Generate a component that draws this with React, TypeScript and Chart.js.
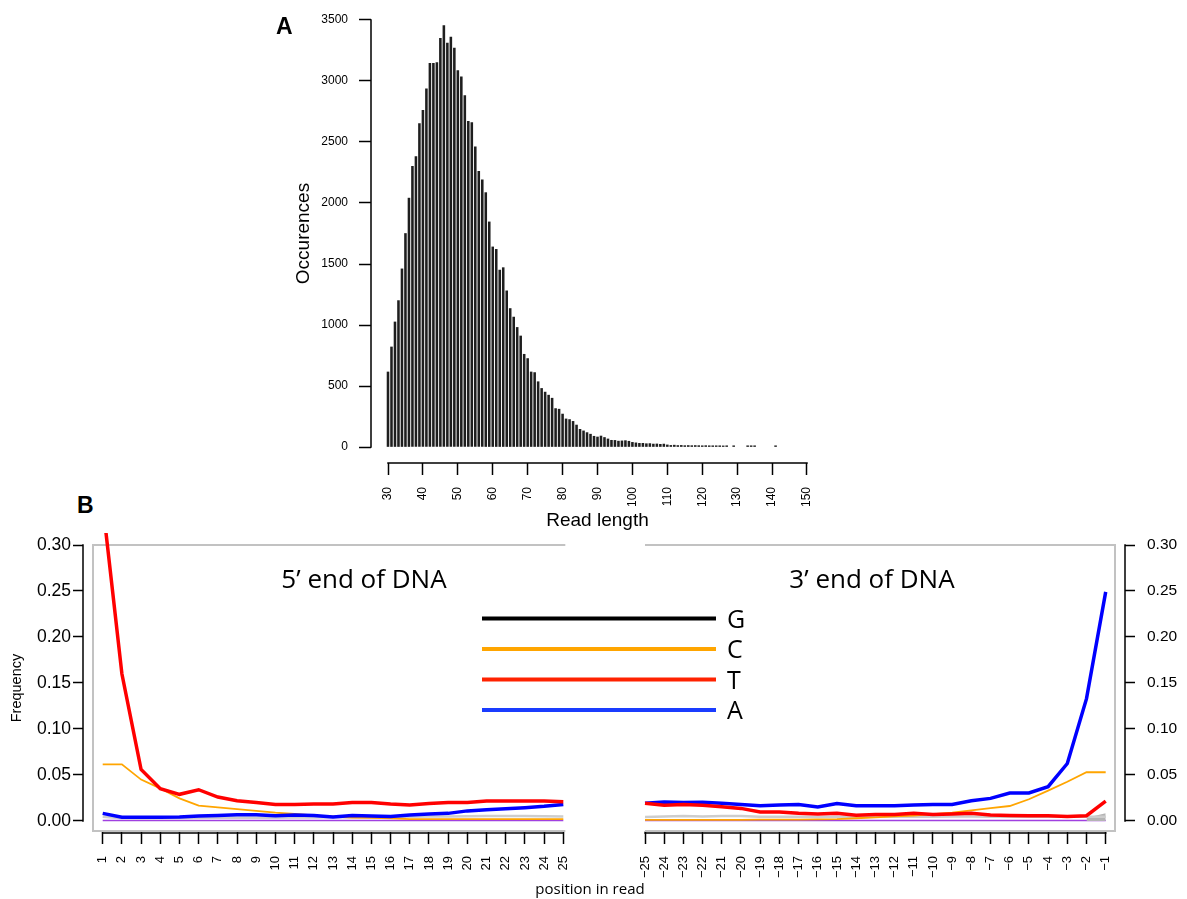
import React, { useEffect, useRef } from 'react';
import { Chart, registerables } from 'chart.js';

Chart.register(...registerables);

// ---------------- Panel A : read length histogram ----------------
const readLengths = [
  30, 31, 32, 33, 34, 35, 36, 37, 38, 39,
  40, 41, 42, 43, 44, 45, 46, 47, 48, 49,
  50, 51, 52, 53, 54, 55, 56, 57, 58, 59,
  60, 61, 62, 63, 64, 65, 66, 67, 68, 69,
  70, 71, 72, 73, 74, 75, 76, 77, 78, 79,
  80, 81, 82, 83, 84, 85, 86, 87, 88, 89,
  90, 91, 92, 93, 94, 95, 96, 97, 98, 99,
  100, 101, 102, 103, 104, 105, 106, 107, 108, 109,
  110, 111, 112, 113, 114, 115, 116, 117, 118, 119,
  120, 121, 122, 123, 124, 125, 126, 127, 128, 129,
  130, 131, 132, 133, 134, 135, 136, 137, 138, 139,
  140, 141,
];
const occurrences = [
  615, 820, 1025, 1200, 1460, 1750, 2040, 2300, 2380, 2650,
  2760, 2935, 3145, 3145, 3150, 3350, 3455, 3310, 3360, 3270,
  3085, 3035, 2880, 2670, 2660, 2460, 2260, 2190, 2085, 1845,
  1640, 1620, 1450, 1470, 1280, 1135, 1065, 980, 910, 760,
  725, 615, 610, 535, 480, 450, 425, 400, 315, 310,
  270, 230, 225, 210, 180, 145, 132, 118, 105, 88,
  82, 90, 78, 66, 55, 54, 48, 50, 52, 47,
  38, 34, 30, 30, 27, 28, 24, 25, 22, 24,
  17, 13, 15, 12, 13, 11, 12, 11, 12, 11,
  10, 11, 10, 10, 10, 10, 9, 10, 0, 10,
  0, 0, 0, 10, 10, 10, 0, 0, 0, 0,
  0, 10,
];
const histXTicks = [30, 40, 50, 60, 70, 80, 90, 100, 110, 120, 130, 140, 150];
const histXLabels = ['30', '40', '50', '60', '70', '80', '90', '100', '110', '120', '130', '140', '150'];
const histYTicks = [0, 500, 1000, 1500, 2000, 2500, 3000, 3500];
const histYLabels = ['0', '500', '1000', '1500', '2000', '2500', '3000', '3500'];

// ---------------- Panel B : base frequencies ----------------
const posLeft = [1, 2, 3, 4, 5, 6, 7, 8, 9, 10, 11, 12, 13, 14, 15, 16, 17, 18, 19, 20, 21, 22, 23, 24, 25];
const posLeftLabels = ['1', '2', '3', '4', '5', '6', '7', '8', '9', '10', '11', '12', '13', '14', '15', '16', '17', '18', '19', '20', '21', '22', '23', '24', '25'];
const posRight = [-25, -24, -23, -22, -21, -20, -19, -18, -17, -16, -15, -14, -13, -12, -11, -10, -9, -8, -7, -6, -5, -4, -3, -2, -1];
const posRightLabels = ['\u221225', '\u221224', '\u221223', '\u221222', '\u221221', '\u221220', '\u221219', '\u221218', '\u221217', '\u221216', '\u221215', '\u221214', '\u221213', '\u221212', '\u221211', '\u221210', '\u22129', '\u22128', '\u22127', '\u22126', '\u22125', '\u22124', '\u22123', '\u22122', '\u22121'];
const freqTicks = [0, 0.05, 0.1, 0.15, 0.2, 0.25, 0.3];
const freqLabels = ['0.00', '0.05', '0.10', '0.15', '0.20', '0.25', '0.30'];

// 5' end (positions 1..25)
const tLeft = [0.345, 0.160, 0.056, 0.035, 0.029, 0.034, 0.026, 0.022, 0.020, 0.018, 0.018, 0.0185, 0.0185, 0.020, 0.020, 0.0185, 0.0175, 0.019, 0.020, 0.020, 0.0217, 0.0217, 0.0217, 0.0217, 0.021];
const cLeft = [0.0616, 0.0616, 0.045, 0.0355, 0.0246, 0.0167, 0.0149, 0.013, 0.011, 0.009, 0.0076, 0.006, 0.0047, 0.0037, 0.0035, 0.003, 0.002, 0.002, 0.002, 0.002, 0.002, 0.002, 0.002, 0.002, 0.002];
const aLeft = [0.0083, 0.004, 0.004, 0.004, 0.0043, 0.0054, 0.006, 0.0068, 0.0068, 0.0058, 0.0065, 0.006, 0.0043, 0.006, 0.0054, 0.005, 0.0065, 0.0076, 0.0083, 0.011, 0.0123, 0.0134, 0.0145, 0.016, 0.018];
const grayLeft = [0.0045, 0.003, 0.0028, 0.003, 0.003, 0.0032, 0.0035, 0.0035, 0.0036, 0.0036, 0.0038, 0.0038, 0.004, 0.004, 0.004, 0.0042, 0.0045, 0.0048, 0.005, 0.0052, 0.0055, 0.0055, 0.0054, 0.0052, 0.005];
const purpleLeft = [0.0005, 0.0005, 0.0005, 0.0005, 0.0005, 0.0005, 0.0005, 0.0005, 0.0005, 0.0005, 0.0005, 0.0005, 0.0005, 0.0005, 0.0005, 0.0005, 0.0005, 0.0005, 0.0005, 0.0005, 0.0005, 0.0005, 0.0005, 0.0005, 0.0005];

// 3' end (positions -25..-1)
const tRight = [0.0192, 0.017, 0.0178, 0.017, 0.0156, 0.0137, 0.0098, 0.0098, 0.0083, 0.0076, 0.0083, 0.0062, 0.007, 0.007, 0.0083, 0.007, 0.0076, 0.0083, 0.0065, 0.006, 0.0058, 0.0058, 0.005, 0.0058, 0.0217];
const cRight = [0.0012, 0.0012, 0.0012, 0.0012, 0.0012, 0.0013, 0.0014, 0.0015, 0.0016, 0.0018, 0.002, 0.003, 0.004, 0.005, 0.006, 0.0075, 0.009, 0.0115, 0.014, 0.0163, 0.0236, 0.033, 0.0427, 0.053, 0.053];
const aRight = [0.0192, 0.0207, 0.020, 0.0203, 0.0192, 0.018, 0.0167, 0.0174, 0.0178, 0.0152, 0.019, 0.0167, 0.0167, 0.0167, 0.0174, 0.018, 0.018, 0.022, 0.0246, 0.0304, 0.0304, 0.0373, 0.0625, 0.133, 0.249];
const grayRight = [0.0043, 0.005, 0.0055, 0.005, 0.0053, 0.0055, 0.0045, 0.0045, 0.0045, 0.0044, 0.0045, 0.0044, 0.0045, 0.0046, 0.0046, 0.0047, 0.0048, 0.0048, 0.0047, 0.0045, 0.0045, 0.0045, 0.0045, 0.0045, 0.0045];
const grayBandRight = [null, null, null, null, null, null, null, null, null, null, null, null, null, null, null, null, null, null, null, null, null, null, null, 0.0035, 0.0085];
const purpleRight = [0.0005, 0.0005, 0.0005, 0.0005, 0.0005, 0.0005, 0.0005, 0.0005, 0.0005, 0.0005, 0.0005, 0.0005, 0.0005, 0.0005, 0.0005, 0.0005, 0.0005, 0.0005, 0.0005, 0.0005, 0.0005, 0.0005, 0.0005, 0.0005, 0.0005];

const legendLabels = ['G', 'C', 'T', 'A'];
const legendColors = ['#000000', '#FFA500', '#FF2200', '#1A3CFF'];

const AXIS_FONT = 'Liberation Sans, Arial, Helvetica, sans-serif';
const TEXT_FONT = '"Open Sans", "Noto Sans", sans-serif';

function noPad(s: any) {
  s.paddingTop = 0;
  s.paddingBottom = 0;
  s.paddingLeft = 0;
  s.paddingRight = 0;
}

function Histogram() {
  const ref = useRef<HTMLCanvasElement>(null);
  useEffect(() => {
    const pts = readLengths
      .map((x, i) => ({ x, y: occurrences[i] }))
      .filter((d) => d.y > 0);
    const axisLines = {
      id: 'histAxisLines',
      afterDraw(chart: any) {
        const { ctx, chartArea, scales } = chart;
        const xs = scales.x;
        const ys = scales.y;
        ctx.save();
        ctx.strokeStyle = '#000';
        ctx.lineWidth = 1.5;
        ctx.beginPath();
        ctx.moveTo(xs.getPixelForValue(histXTicks[0]) - 0.75, chartArea.bottom);
        ctx.lineTo(xs.getPixelForValue(histXTicks[histXTicks.length - 1]) + 0.75, chartArea.bottom);
        ctx.moveTo(chartArea.left, ys.getPixelForValue(histYTicks[0]) + 0.75);
        ctx.lineTo(chartArea.left, ys.getPixelForValue(histYTicks[histYTicks.length - 1]) - 0.75);
        ctx.stroke();
        ctx.restore();
      },
    };
    const chart = new Chart(ref.current as HTMLCanvasElement, {
      type: 'bar',
      data: {
        datasets: [
          {
            data: pts as any,
            backgroundColor: '#1e1e1e',
            borderWidth: 0,
            barThickness: 1.9,
          } as any,
        ],
      },
      options: {
        animation: false,
        responsive: false,
        maintainAspectRatio: false,
        layout: { padding: { top: 4, right: 6, left: 0, bottom: 0 } },
        plugins: { legend: { display: false }, tooltip: { enabled: false } },
        scales: {
          x: {
            type: 'linear',
            bounds: 'data',
            min: 25.131,
            max: 154.869,
            offset: false,
            afterBuildTicks: (s: any) => {
              s.ticks = histXTicks.map((v) => ({ value: v }));
            },
            afterFit: (s: any) => {
              s.height = 77;
              noPad(s);
            },
            grid: { drawOnChartArea: false, offset: false, drawTicks: true, tickLength: 12, tickColor: '#000', tickWidth: 1.5 },
            border: { display: false },
            ticks: {
              autoSkip: false,
              minRotation: 90,
              maxRotation: 90,
              padding: 12,
              color: '#000',
              font: { family: AXIS_FONT, size: 12 },
              callback: (_v: any, i: number) => histXLabels[i],
            },
            title: {
              display: true,
              text: 'Read length',
              color: '#000',
              font: { family: AXIS_FONT, size: 19 },
              padding: { top: 0, bottom: 7.6 },
            },
          } as any,
          y: {
            type: 'linear',
            bounds: 'data',
            min: -131.1,
            max: 3631.1,
            afterBuildTicks: (s: any) => {
              s.ticks = histYTicks.map((v) => ({ value: v }));
            },
            afterFit: (s: any) => {
              s.width = 101;
              noPad(s);
            },
            grid: { drawOnChartArea: false, drawTicks: true, tickLength: 12, tickColor: '#000', tickWidth: 1.5 },
            border: { display: false },
            ticks: {
              autoSkip: false,
              padding: 11,
              color: '#000',
              font: { family: AXIS_FONT, size: 12 },
              callback: (_v: any, i: number) => histYLabels[i],
            },
            title: {
              display: true,
              text: 'Occurences',
              color: '#000',
              font: { family: AXIS_FONT, size: 19 },
              padding: { top: 22.5, bottom: 0 },
            },
          } as any,
        },
      },
      plugins: [axisLines],
    });
    return () => chart.destroy();
  }, []);
  return (
    <canvas
      ref={ref}
      width={560}
      height={540}
      style={{ position: 'absolute', left: 270, top: 0, width: 560, height: 540 }}
    />
  );
}

function toPts(xs: number[], ys: (number | null)[]) {
  return xs.map((x, i) => ({ x, y: ys[i] }));
}

function Frequencies() {
  const ref = useRef<HTMLCanvasElement>(null);
  useEffect(() => {
    const decor = {
      id: 'panelBDecor',
      beforeDatasetsDraw(chart: any) {
        const { ctx, chartArea: a, scales } = chart;
        const leftEnd = scales.xL.getPixelForValue(posLeft[posLeft.length - 1]) + 2;
        const rightStart = scales.xR.getPixelForValue(posRight[0]);
        ctx.save();
        ctx.strokeStyle = '#c2c2c2';
        ctx.lineWidth = 2;
        ctx.beginPath();
        ctx.moveTo(leftEnd, a.top);
        ctx.lineTo(a.left, a.top);
        ctx.lineTo(a.left, a.bottom);
        ctx.lineTo(leftEnd, a.bottom);
        ctx.moveTo(rightStart, a.top);
        ctx.lineTo(a.right, a.top);
        ctx.lineTo(a.right, a.bottom);
        ctx.lineTo(rightStart, a.bottom);
        ctx.stroke();
        ctx.restore();
      },
      afterDraw(chart: any) {
        const { ctx, chartArea: a, scales } = chart;
        const yL = scales.yL;
        const yR = scales.yR;
        const xL = scales.xL;
        const xR = scales.xR;
        ctx.save();
        ctx.strokeStyle = '#000';
        ctx.lineWidth = 1.5;
        ctx.beginPath();
        // y axes (detached R style)
        ctx.moveTo(a.left - 10, yL.getPixelForValue(freqTicks[0]) + 0.75);
        ctx.lineTo(a.left - 10, yL.getPixelForValue(freqTicks[freqTicks.length - 1]) - 0.75);
        ctx.moveTo(a.right + 10, yR.getPixelForValue(freqTicks[0]) + 0.75);
        ctx.lineTo(a.right + 10, yR.getPixelForValue(freqTicks[freqTicks.length - 1]) - 0.75);
        // x axes
        ctx.moveTo(xL.getPixelForValue(posLeft[0]) - 0.75, a.bottom + 2);
        ctx.lineTo(xL.getPixelForValue(posLeft[posLeft.length - 1]) + 0.75, a.bottom + 2);
        ctx.moveTo(xR.getPixelForValue(posRight[0]) - 0.75, a.bottom + 2);
        ctx.lineTo(xR.getPixelForValue(posRight[posRight.length - 1]) + 0.75, a.bottom + 2);
        ctx.stroke();

        // panel titles
        ctx.fillStyle = '#000';
        ctx.font = `26px ${TEXT_FONT}`;
        ctx.textAlign = 'center';
        ctx.textBaseline = 'alphabetic';
        ctx.fillText('5\u2019 end of DNA', a.left + 271, a.top + 43);
        ctx.fillText('3\u2019 end of DNA', a.left + 779, a.top + 43);

        // legend
        const lx0 = a.left + 389;
        const lx1 = a.left + 623;
        const ly = [a.top + 73.5, a.top + 104, a.top + 134.5, a.top + 165];
        ctx.font = `25px ${TEXT_FONT}`;
        ctx.textAlign = 'left';
        legendLabels.forEach((lab, i) => {
          ctx.strokeStyle = legendColors[i];
          ctx.lineWidth = 4;
          ctx.beginPath();
          ctx.moveTo(lx0, ly[i]);
          ctx.lineTo(lx1, ly[i]);
          ctx.stroke();
          ctx.fillStyle = '#000';
          ctx.fillText(lab, lx1 + 11, ly[i] + 9);
        });
        ctx.restore();
      },
    };

    const leftDs = (data: number[], color: string, width: number, extra: any = {}) => ({
      data: toPts(posLeft, data),
      xAxisID: 'xL',
      yAxisID: 'yL',
      borderColor: color,
      borderWidth: width,
      pointRadius: 0,
      fill: false,
      tension: 0,
      ...extra,
    });
    const rightDs = (data: (number | null)[], color: string, width: number, extra: any = {}) => ({
      data: toPts(posRight, data),
      xAxisID: 'xR',
      yAxisID: 'yR',
      borderColor: color,
      borderWidth: width,
      pointRadius: 0,
      fill: false,
      tension: 0,
      ...extra,
    });

    const xCommon = (labels: string[], vals: number[]) => ({
      type: 'linear',
      position: 'bottom',
      stack: 'pos',
      stackWeight: 1,
      bounds: 'data',
      offset: false,
      afterBuildTicks: (s: any) => {
        s.ticks = vals.map((v) => ({ value: v }));
      },
      afterFit: (s: any) => {
        s.height = 68;
        noPad(s);
      },
      grid: { drawOnChartArea: false, offset: false, drawTicks: true, tickLength: 13, tickColor: '#000', tickWidth: 1.5 },
      border: { display: false },
      ticks: {
        autoSkip: false,
        minRotation: 90,
        maxRotation: 90,
        padding: 12,
        color: '#000',
        font: { family: AXIS_FONT, size: 13 },
        callback: (_v: any, i: number) => labels[i],
      },
    });

    const chart = new Chart(ref.current as HTMLCanvasElement, {
      type: 'line',
      data: {
        datasets: [
          leftDs(tLeft, '#FF0000', 3.5, { clip: { left: 2, top: 12, right: 2, bottom: 2 } }),
          leftDs(aLeft, '#0000FF', 3.5),
          leftDs(cLeft, '#FFA500', 1.8),
          leftDs(grayLeft, '#CDCDCD', 2.5),
          leftDs(purpleLeft, '#A040E0', 1.6),
          rightDs(tRight, '#FF0000', 3.5),
          rightDs(aRight, '#0000FF', 3.5),
          rightDs(cRight, '#FFA500', 1.8),
          rightDs(grayRight, '#CDCDCD', 2.5),
          rightDs(grayBandRight, '#B4B4B4', 0, { fill: 'origin', backgroundColor: '#B4B4B4', spanGaps: false }),
          rightDs(purpleRight, '#A040E0', 1.6),
        ] as any,
      },
      options: {
        animation: false,
        responsive: false,
        maintainAspectRatio: false,
        layout: { padding: { top: 20, right: 0, left: 0, bottom: 0 } },
        plugins: { legend: { display: false }, tooltip: { enabled: false } },
        scales: {
          xL: { ...xCommon(posLeftLabels, posLeft), min: 0.4946, max: 27.12 } as any,
          xR: { ...xCommon(posRightLabels, posRight), min: -27.136, max: -0.5155 } as any,
          yL: {
            type: 'linear',
            position: 'left',
            bounds: 'data',
            min: -0.01087,
            max: 0.3,
            afterBuildTicks: (s: any) => {
              s.ticks = freqTicks.map((v) => ({ value: v }));
            },
            afterFit: (s: any) => {
              s.width = 93;
              noPad(s);
            },
            grid: { drawOnChartArea: false, drawTicks: true, tickLength: 20, tickColor: '#000', tickWidth: 1.5, tickBorderDash: [10, 10], tickBorderDashOffset: 0 },
            border: { display: false },
            ticks: {
              autoSkip: false,
              padding: 2,
              color: '#000',
              font: { family: AXIS_FONT, size: 17.5 },
              callback: (_v: any, i: number) => freqLabels[i],
            },
            title: {
              display: true,
              text: 'Frequency',
              color: '#000',
              font: { family: AXIS_FONT, size: 14.5 },
              padding: { top: 8.3, bottom: 0 },
            },
          } as any,
          yR: {
            type: 'linear',
            position: 'right',
            bounds: 'data',
            min: -0.01087,
            max: 0.3,
            afterBuildTicks: (s: any) => {
              s.ticks = freqTicks.map((v) => ({ value: v }));
            },
            afterFit: (s: any) => {
              s.width = 72;
              noPad(s);
            },
            grid: { drawOnChartArea: false, drawTicks: true, tickLength: 20, tickColor: '#000', tickWidth: 1.5, tickBorderDash: [10, 10], tickBorderDashOffset: 10 },
            border: { display: false },
            ticks: {
              autoSkip: false,
              padding: 12,
              color: '#000',
              font: { family: AXIS_FONT, size: 15.5 },
              callback: (_v: any, i: number) => freqLabels[i],
            },
          } as any,
        },
      },
      plugins: [decor],
    });
    return () => chart.destroy();
  }, []);
  return (
    <canvas
      ref={ref}
      width={1187}
      height={374}
      style={{ position: 'absolute', left: 0, top: 525, width: 1187, height: 374 }}
    />
  );
}

export default function App() {
  return (
    <div style={{ position: 'absolute', left: 0, top: 0, width: 1187, height: 899, background: '#fff', overflow: 'hidden' }}>
      <Histogram />
      <Frequencies />
      <div style={{ position: 'absolute', left: 276, top: 15, fontFamily: AXIS_FONT, fontWeight: 'bold', fontSize: 23, lineHeight: 1 }}>A</div>
      <div style={{ position: 'absolute', left: 77, top: 494, fontFamily: AXIS_FONT, fontWeight: 'bold', fontSize: 23, lineHeight: 1 }}>B</div>
      <div style={{ position: 'absolute', left: 490, width: 200, top: 880.7, textAlign: 'center', fontFamily: TEXT_FONT, fontSize: 15, lineHeight: 1 }}>position in read</div>
    </div>
  );
}
